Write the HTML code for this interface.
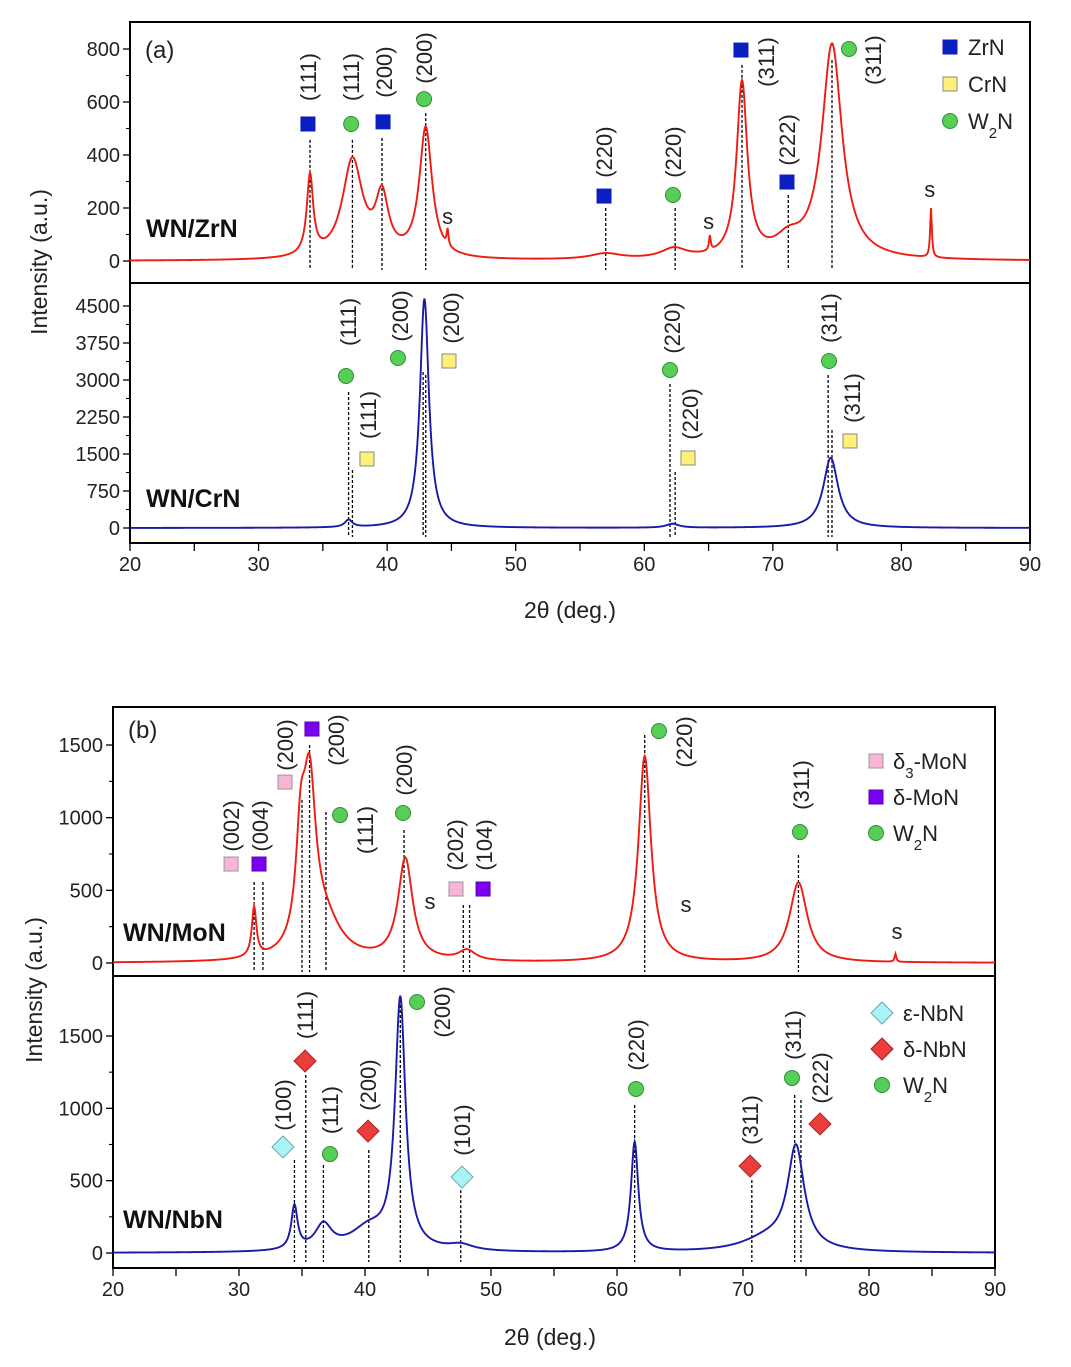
<!DOCTYPE html>
<html><head><meta charset="utf-8">
<style>
html,body{margin:0;padding:0;background:#fff;}
svg{display:block;font-family:"Liberation Sans",Arial,sans-serif;}
</style></head>
<body>
<svg id="chart" width="1071" height="1367" viewBox="0 0 1071 1367" xmlns="http://www.w3.org/2000/svg"></svg>
<script>
// ---------- data: peak centers, heights, half-widths ----------
const zrnCenters = [34.0, 37.3, 39.6, 43.0, 44.7, 57.0, 62.3, 65.1, 67.6, 71.2, 74.6, 82.3];
const zrnHeights = [300, 370, 215, 490, 60, 22, 38, 55, 660, 60, 810, 185];
const zrnWidths  = [0.3, 0.95, 0.6, 0.6, 0.08, 1.5, 1.2, 0.08, 0.5, 1.2, 0.95, 0.08];

const crnCenters = [37.0, 42.9, 62.2, 74.5];
const crnHeights = [150, 4650, 80, 1420];
const crnWidths  = [0.35, 0.42, 0.6, 0.7];

const monCenters = [31.2, 34.9, 35.6, 36.8, 43.2, 48.1, 62.2, 74.4, 82.1];
const monHeights = [340, 650, 1080, 250, 700, 70, 1420, 550, 55];
const monWidths  = [0.22, 0.45, 0.6, 1.6, 0.7, 0.8, 0.6, 0.85, 0.08];

const nbnCenters = [34.4, 36.7, 40.3, 42.8, 47.6, 61.4, 72.0, 74.2];
const nbnHeights = [300, 170, 150, 1720, 40, 760, 90, 700];
const nbnWidths  = [0.3, 0.8, 1.8, 0.5, 1.2, 0.35, 2.5, 0.8];

const xTicks = [20, 30, 40, 50, 60, 70, 80, 90];
const zrnYTicks = [0, 200, 400, 600, 800];
const crnYTicks = [0, 750, 1500, 2250, 3000, 3750, 4500];
const monYTicks = [0, 500, 1000, 1500];
const nbnYTicks = [0, 500, 1000, 1500];

// annotations: [lineX, lineTopValue, markerX, markerValue, kind, label, labelX, labelValue]
const zrnAnn = [
 [34.0,457,33.84,517,'zr','(111)',33.84,694],
 [37.3,457,37.2,517,'w','(111)',37.2,694],
 [39.6,464,39.68,525,'zr','(200)',39.76,713],
 [43.0,558,42.87,611,'w','(200)',42.87,766],
 [57.0,200,56.87,245,'zr','(220)',56.87,411],
 [62.4,200,62.23,249,'w','(220)',62.23,411],
 [67.6,740,67.52,796,'zr','(311)',69.47,751],
 [71.2,249,71.1,298,'zr','(222)',71.1,457],
 [74.6,758,75.92,800,'w','(311)',77.79,758]
];
const zrnS = [[44.7,166],[65.0,147],[82.2,268]];
const crnAnn = [
 [37.0,2757,36.8,3081,'w','(111)',36.96,4176],
 [37.3,1176,38.43,1399,'cr','(111)',38.51,2291],
 [42.8,3162,40.84,3446,'w','(200)',41.0,4298],
 [43.0,3101,44.81,3385,'cr','(200)',44.97,4257],
 [62.0,2919,62.0,3203,'w','(220)',62.16,4054],
 [62.4,1135,63.4,1419,'cr','(220)',63.56,2311],
 [74.3,3101,74.37,3385,'w','(311)',74.37,4257],
 [74.6,1987,76.0,1764,'cr','(311)',76.16,2635]
];
const monAnn = [
 [31.2,557,29.37,681,'d3','(002)',29.37,943],
 [31.9,557,31.59,681,'dm','(004)',31.67,943],
 [35.0,1122,33.65,1245,'d3','(200)',33.65,1500],
 [35.6,1500,35.79,1610,'dm','(200)',37.7,1534],
 [36.9,1039,38.02,1018,'w','(111)',40.0,915],
 [43.1,915,43.02,1032,'w','(200)',43.1,1328],
 [47.8,399,47.22,509,'d3','(202)',47.14,812],
 [48.3,399,49.37,509,'dm','(104)',49.44,812],
 [62.2,1569,63.33,1596,'w','(220)',65.32,1521],
 [74.4,743,74.52,901,'w','(311)',74.6,1225]
];
const monS = [[45.16,420],[65.48,399],[82.22,213]];
const nbnAnn = [
 [34.4,643,33.49,733,'eps','(100)',33.49,1023],
 [35.3,1230,35.24,1327,'dnb','(111)',35.24,1645],
 [36.7,608,37.22,684,'w','(111)',37.22,988],
 [40.3,712,40.24,843,'dnb','(200)',40.24,1161],
 [42.8,1749,44.13,1735,'w','(200)',46.11,1666],
 [47.6,435,47.7,525,'eps','(101)',47.7,850],
 [61.4,1023,61.51,1134,'w','(220)',61.51,1438],
 [70.7,505,70.56,601,'dnb','(311)',70.56,919],
 [74.1,1092,73.89,1210,'w','(311)',73.97,1507],
 [74.6,1058,76.11,892,'dnb','(222)',76.11,1210]
];

// ---------- rendering ----------
const NS = 'http://www.w3.org/2000/svg';
const svg = document.getElementById('chart');
function mk(tag, attrs, parent, text) {
  const e = document.createElementNS(NS, tag);
  for (const k in attrs) e.setAttribute(k, attrs[k]);
  if (text !== undefined) e.textContent = text;
  (parent || svg).appendChild(e);
  return e;
}
const markerStyles = {
  zr: {shape:'sq', fill:'#0b1fc0', stroke:'#0b1fc0'},
  cr: {shape:'sq', fill:'#fff07a', stroke:'#888'},
  w: {shape:'ci', fill:'#55cf55', stroke:'#3a8a3a'},
  d3: {shape:'sq', fill:'#f9b4d6', stroke:'#999'},
  dm: {shape:'sq', fill:'#7a00f0', stroke:'#5a00b0'},
  eps: {shape:'di', fill:'#a8f3f5', stroke:'#6aa'},
  dnb: {shape:'di', fill:'#ec3d3d', stroke:'#a22'}
};
function drawMarker(g, kind, cx, cy) {
  const s = markerStyles[kind];
  let e;
  if (s.shape === 'sq') e = mk('rect', {x:cx-7, y:cy-7, width:14, height:14, fill:s.fill, stroke:s.stroke, 'stroke-width':1}, g);
  else if (s.shape === 'ci') e = mk('circle', {cx:cx, cy:cy, r:7.5, fill:s.fill, stroke:s.stroke, 'stroke-width':1}, g);
  else e = mk('polygon', {points:`${cx},${cy-11} ${cx+11},${cy} ${cx},${cy+11} ${cx-11},${cy}`, fill:s.fill, stroke:s.stroke, 'stroke-width':1}, g);
  
  
  return e;
}

function drawSub(cfg) {
  const {name, x0, x1, top, bottom, vy0, py0, vy1, py1, centers, heights, widths, yticks, color, ann, s, sample, sampleY, showX} = cfg;
  const X = v => x0 + (v - 20) / 70 * (x1 - x0);
  const Y = v => py0 + (v - vy0) / (vy1 - vy0) * (py1 - py0);
  const g = mk('g', { });
  yticks.forEach((t, i) => {
    mk('line', {x1:x0-7, x2:x0, y1:Y(t), y2:Y(t), stroke:'#000', 'stroke-width':1.3}, g);
    if (i < yticks.length - 1) {
      const m = (t + yticks[i+1]) / 2;
      mk('line', {x1:x0-4, x2:x0, y1:Y(m), y2:Y(m), stroke:'#000', 'stroke-width':1.1}, g);
    }
    const lab = mk('text', {x:x0-10, y:Y(t)+7, 'text-anchor':'end', 'font-size':20, fill:'#222'}, g, String(t));
    
    
  });
  ann.forEach(a => {
    mk('line', {x1:X(a[0]), x2:X(a[0]), y1:Y(a[1]), y2:py0+9, stroke:'#000', 'stroke-width':1.3, 'stroke-dasharray':'3,2'}, g);
  });
  let d = '';
  for (let i = 0; i <= 1400; i++) {
    const x = 20 + i * 0.05;
    let v = 0;
    for (let k = 0; k < centers.length; k++) {
      const u = (x - centers[k]) / widths[k];
      v += heights[k] / (1 + u * u);
    }
    d += (i ? 'L' : 'M') + X(x).toFixed(2) + ',' + Y(v).toFixed(2);
  }
  const path = mk('path', {d:d, fill:'none', stroke:color, 'stroke-width':1.9}, g);
  
  
  ann.forEach(a => {
    drawMarker(g, a[4], X(a[2]), Y(a[3]));
    const lx = X(a[6]) + 8, ly = Y(a[7]);
    const t = mk('text', {x:lx, y:ly, 'text-anchor':'middle', 'font-size':22, fill:'#222', transform:`rotate(-90 ${lx} ${ly})`}, g, a[5]);
    
    
  });
  (s || []).forEach(p => {
    const t = mk('text', {x:X(p[0]), y:Y(p[1])+7, 'text-anchor':'middle', 'font-size':22, fill:'#222'}, g, 's');
    
    
  });
  const sl = mk('text', {x:sample, y:sampleY, 'font-size':25, 'font-weight':'bold', fill:'#111'}, g, cfg.sampleText);
  
  
  if (showX) {
    for (let v = 20; v <= 90; v += 5) {
      mk('line', {x1:X(v), x2:X(v), y1:bottom, y2:bottom+8, stroke:'#000', 'stroke-width':1.3}, g);
    }
    xTicks.forEach(t => {
      const lab = mk('text', {x:X(t), y:bottom+28, 'text-anchor':'middle', 'font-size':20, fill:'#222'}, g, String(t));
      
      
    });
  }
  return g;
}

function frame(name, x0, x1, top, mid, bottom) {
  const r = mk('rect', {x:x0, y:top, width:x1-x0, height:bottom-top, fill:'none', stroke:'#000', 'stroke-width':2});
  
  
  mk('line', {x1:x0, x2:x1, y1:mid, y2:mid, stroke:'#000', 'stroke-width':2});
}
function legend(items, mx, tx, y0, dy) {
  const g = mk('g', { });
  items.forEach((it, i) => {
    const y = y0 + i * dy;
    drawMarker(g, it[0], mx, y);
    const t = mk('text', {x:tx, y:y+8, 'font-size':22, fill:'#222'}, g);
    t.innerHTML = it[1];
    
    
  });
}

frame('panel-a', 130, 1030, 22, 283, 543);
drawSub({name:'wn-zrn', x0:130, x1:1030, top:22, bottom:283, vy0:0, py0:261, vy1:800, py1:49,
  centers:zrnCenters, heights:zrnHeights, widths:zrnWidths, yticks:zrnYTicks, color:'#ee1c12',
  ann:zrnAnn, s:zrnS, sample:146, sampleY:237, sampleText:'WN/ZrN', showX:false});
drawSub({name:'wn-crn', x0:130, x1:1030, top:283, bottom:543, vy0:0, py0:528, vy1:4500, py1:306,
  centers:crnCenters, heights:crnHeights, widths:crnWidths, yticks:crnYTicks, color:'#1a1aa8',
  ann:crnAnn, s:[], sample:146, sampleY:507, sampleText:'WN/CrN', showX:true});
legend([['zr','ZrN'],['cr','CrN'],['w','W<tspan baseline-shift="sub" font-size="15">2</tspan>N']], 950, 968, 47, 37);
mk('text', {x:145, y:58, 'font-size':24, fill:'#222',  }, svg, '(a)');
mk('text', {x:47, y:262, 'font-size':23, fill:'#222', 'text-anchor':'middle', transform:'rotate(-90 47 262)',  }, svg, 'Intensity (a.u.)');
mk('text', {x:570, y:618, 'font-size':23, fill:'#222', 'text-anchor':'middle',  }, svg, '2θ (deg.)');

frame('panel-b', 113, 995, 707, 976, 1268);
drawSub({name:'wn-mon', x0:113, x1:995, top:707, bottom:976, vy0:0, py0:963, vy1:1500, py1:745,
  centers:monCenters, heights:monHeights, widths:monWidths, yticks:monYTicks, color:'#ee1c12',
  ann:monAnn, s:monS, sample:123, sampleY:941, sampleText:'WN/MoN', showX:false});
drawSub({name:'wn-nbn', x0:113, x1:995, top:976, bottom:1268, vy0:0, py0:1253, vy1:1500, py1:1036,
  centers:nbnCenters, heights:nbnHeights, widths:nbnWidths, yticks:nbnYTicks, color:'#1a1aa8',
  ann:nbnAnn, s:[], sample:123, sampleY:1228, sampleText:'WN/NbN', showX:true});
legend([['d3','δ<tspan baseline-shift="sub" font-size="15">3</tspan>-MoN'],['dm','δ-MoN'],['w','W<tspan baseline-shift="sub" font-size="15">2</tspan>N']], 876, 893, 761, 36);
legend([['eps','ε-NbN'],['dnb','δ-NbN'],['w','W<tspan baseline-shift="sub" font-size="15">2</tspan>N']], 882, 903, 1013, 36);
mk('text', {x:128, y:738, 'font-size':24, fill:'#222',  }, svg, '(b)');
mk('text', {x:42, y:990, 'font-size':23, fill:'#222', 'text-anchor':'middle', transform:'rotate(-90 42 990)',  }, svg, 'Intensity (a.u.)');
mk('text', {x:550, y:1345, 'font-size':23, fill:'#222', 'text-anchor':'middle',  }, svg, '2θ (deg.)');
</script>
</body></html>
